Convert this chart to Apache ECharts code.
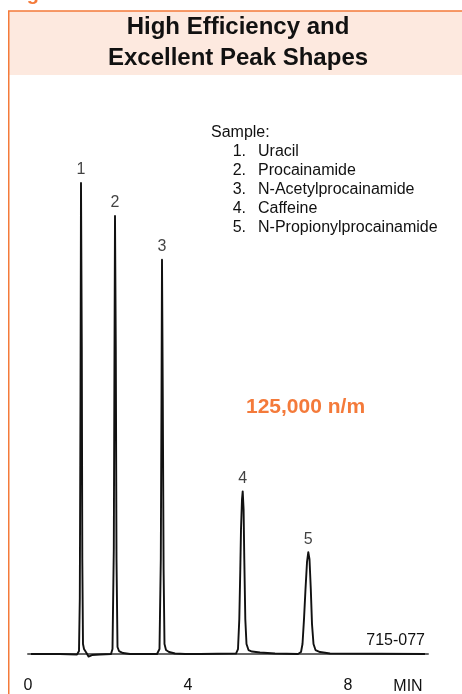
<!DOCTYPE html>
<html>
<head>
<meta charset="utf-8">
<title>High Efficiency and Excellent Peak Shapes</title>
<script src="https://cdn.jsdelivr.net/npm/echarts@6/dist/echarts.min.js"></script>
<style>
  html, body { margin: 0; padding: 0; background: #ffffff; }
  #chart { width: 462px; height: 694px; }
</style>
</head>
<body>
<div id="chart"></div>
<script>
// Chromatogram trace: retention time (min) and detector signal (arbitrary units, 0 = baseline)
const times = [
  0.075, 0.8, 1.225, 1.275, 1.295, 1.3125, 1.325, 1.345, 1.3575, 1.375,
  1.4, 1.4375, 1.4625, 1.4875, 1.5125, 1.5375, 1.6, 1.8,
  2.075, 2.1125, 2.145, 2.1625, 2.175, 2.195, 2.2125, 2.2375, 2.275, 2.375, 2.55,
  3.225, 3.2875, 3.32, 3.3375, 3.35, 3.37, 3.39, 3.4125, 3.45, 3.525, 3.675, 3.925,
  4.3, 5.2, 5.25, 5.2825, 5.3075, 5.325, 5.35, 5.3675, 5.39, 5.4075, 5.4325,
  5.4625, 5.5125, 5.6, 5.8, 6.175,
  6.75, 6.825, 6.8625, 6.9, 6.9375, 6.975, 7.0075, 7.0375, 7.07, 7.1, 7.1375,
  7.1875, 7.3, 7.55, 9.925
];
const signal = [
  0, 0, -0.5, 3, 55, 255, 472, 305, 95, 10,
  5, 3, 1, 2.5, -2.5, -2, -1, -0.5,
  0, 5, 105, 305, 439, 305, 95, 7, 3, 1, 0,
  0, 5, 95, 255, 395, 255, 85, 10, 4, 2, 0.5, 0,
  0, 0.5, 5, 35, 85, 125, 155, 163, 145, 95, 35,
  10, 4, 2.5, 1.5, 0.5,
  0, 2, 10, 35, 65, 92, 102, 95, 65, 30, 10,
  4, 2, 0.5, 0
];

// Peak identification
const peakNumbers = ['1', '2', '3', '4', '5'];
const peakTimes = [1.325, 2.175, 3.35, 5.3675, 7.0075];
const peakHeights = [472, 439, 395, 163, 102];
const sampleNames = ['Uracil', 'Procainamide', 'N-Acetylprocainamide', 'Caffeine', 'N-Propionylprocainamide'];

// Time axis labels
const xTicks = [0, 4, 8];

const FONT = '"Liberation Sans", Arial, Helvetica, sans-serif';
const ORANGE = '#f47a3a';

const chart = echarts.init(document.getElementById('chart'), null, { renderer: 'canvas' });

const legendTexts = [
  { type: 'text', left: 211, top: 125, style: { text: 'Sample:', font: '16px ' + FONT, fill: '#111' } }
];
sampleNames.forEach(function (name, i) {
  const y = 152 + i * 19;
  legendTexts.push({
    type: 'text', x: 246, y: y,
    style: { text: peakNumbers[i] + '.', font: '16px ' + FONT, fill: '#111', align: 'right', verticalAlign: 'middle' }
  });
  legendTexts.push({
    type: 'text', x: 258, y: y,
    style: { text: name, font: '16px ' + FONT, fill: '#111', align: 'left', verticalAlign: 'middle' }
  });
});

const option = {
  animation: false,
  backgroundColor: '#ffffff',
  graphic: [
    // figure caption (only its lower edge is inside the page)
    { type: 'text', x: 9, y: 4, z: 1,
      style: { text: 'Figure', font: 'bold 20px ' + FONT, fill: ORANGE, verticalAlign: 'bottom' } },
    // header band
    { type: 'rect', z: -10, shape: { x: 9, y: 11, width: 460, height: 64 }, style: { fill: '#fde9df' } },
    // framed panel (left and top edges fall inside the page)
    { type: 'rect', z: -5, shape: { x: 8.75, y: 11, width: 470, height: 700 },
      style: { fill: 'none', stroke: ORANGE, lineWidth: 1.5 } },
    // panel heading
    { type: 'text', x: 238, y: 27.5, z: 2,
      style: { text: 'High Efficiency and', font: 'bold 24px ' + FONT, fill: '#111', align: 'center', verticalAlign: 'middle' } },
    { type: 'text', x: 238, y: 58, z: 2,
      style: { text: 'Excellent Peak Shapes', font: 'bold 24px ' + FONT, fill: '#111', align: 'center', verticalAlign: 'middle' } },
    { type: 'group', children: legendTexts },
    { type: 'text', x: 246, y: 407,
      style: { text: '125,000 n/m', font: 'bold 21px ' + FONT, fill: ORANGE, verticalAlign: 'middle' } },
    { type: 'text', x: 425, y: 641,
      style: { text: '715-077', font: '16px ' + FONT, fill: '#111', align: 'right', verticalAlign: 'middle' } },
    { type: 'text', x: 408, y: 687,
      style: { text: 'MIN', font: '16px ' + FONT, fill: '#111', align: 'center', verticalAlign: 'middle' } }
  ],
  grid: { left: 28, right: 34, top: 168, bottom: 26, containLabel: false },
  xAxis: {
    type: 'value',
    min: 0,
    max: 10,
    interval: 4,
    axisLine: { show: true, lineStyle: { color: '#666', width: 2 } },
    axisTick: { show: false },
    splitLine: { show: false },
    axisLabel: {
      customValues: xTicks,
      color: '#111',
      fontFamily: FONT,
      fontSize: 16,
      margin: 11,
      formatter: function (v) { return xTicks.indexOf(v) >= 0 ? String(v) : ''; }
    }
  },
  yAxis: {
    type: 'value',
    min: -13,
    max: 487,
    show: false,
    splitLine: { show: false }
  },
  series: [
    {
      type: 'line',
      data: times.map(function (t, i) { return [t, signal[i]]; }),
      showSymbol: false,
      symbol: 'none',
      smooth: false,
      lineStyle: { color: '#111', width: 1.9, join: 'round' },
      z: 3
    },
    {
      type: 'scatter',
      data: peakTimes.map(function (t, i) { return [t, peakHeights[i]]; }),
      symbolSize: 0.1,
      itemStyle: { color: 'rgba(0,0,0,0)' },
      label: {
        show: true,
        position: 'top',
        distance: 5,
        color: '#111',
        textBorderWidth: 0,
        fontFamily: FONT,
        fontSize: 16,
        formatter: function (p) { return peakNumbers[p.dataIndex]; }
      },
      z: 4
    }
  ]
};

chart.setOption(option);
</script>
</body>
</html>
